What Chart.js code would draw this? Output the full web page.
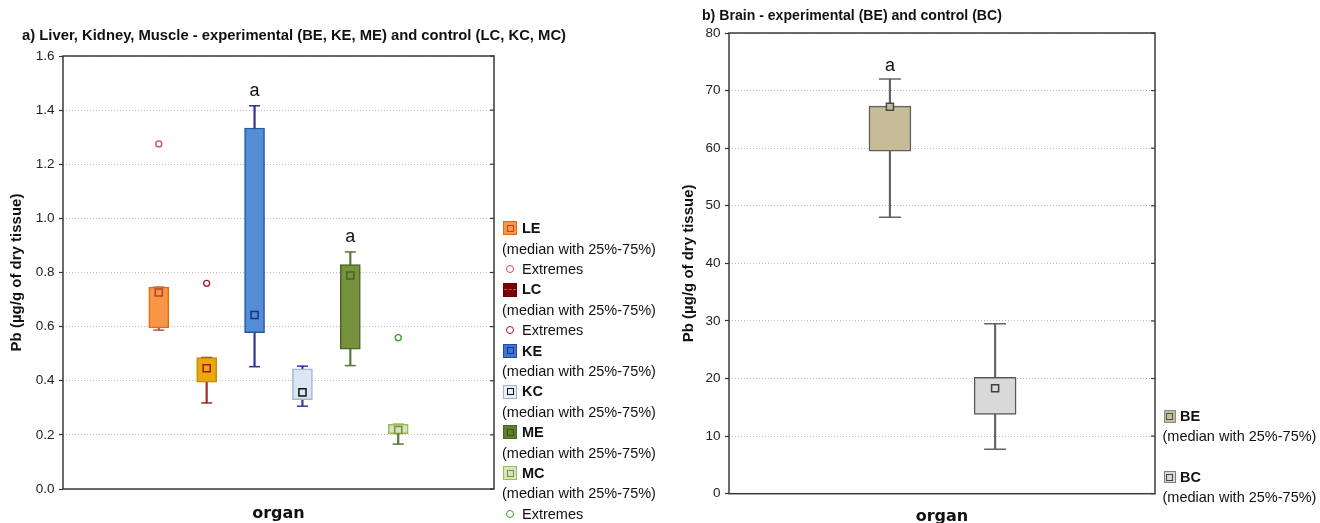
<!DOCTYPE html>
<html><head><meta charset="utf-8">
<script src="https://cdn.jsdelivr.net/npm/chart.js@4.4.1/dist/chart.umd.min.js"></script>
<style>
html,body{margin:0;padding:0;width:1320px;height:523px;overflow:hidden;background:#fff;font-family:"Liberation Sans",Arial,sans-serif;color:#111}
canvas{position:absolute;top:0}
#cA{left:0}
#cB{left:680px}
.ttl{position:absolute;font-weight:bold;line-height:1;white-space:nowrap;color:#111}
.lt{position:absolute;font-size:14.5px;line-height:20.4px;height:20.4px;white-space:nowrap;color:#111}
.lt b{font-weight:bold}
.sw{position:absolute;box-sizing:border-box;border:1px solid}
.sw i{position:absolute;box-sizing:border-box;border:1.5px solid}
.ci{position:absolute;box-sizing:border-box;width:8px;height:8px;border:1.4px solid;border-radius:50%;background:#fff}
</style></head>
<body>
<canvas id="cA" width="600" height="523"></canvas>
<canvas id="cB" width="640" height="526"></canvas>
<div class="ttl" style="left:22px;top:28.2px;font-size:14.8px">a) Liver, Kidney, Muscle - experimental (BE, KE, ME) and control (LC, KC, MC)</div>
<div class="ttl" style="left:702px;top:7.6px;font-size:14.1px">b) Brain - experimental (BE) and control (BC)</div>
<div id="legA"></div><div id="legB"></div>
<script>
// ---------- data: chart a ----------
const groupsA = ['LE','LC','KE','KC','ME','MC'];
const minA = [0.587, 0.318, 0.452, 0.306, 0.456, 0.166];
const q1A  = [0.595, 0.395, 0.578, 0.330, 0.517, 0.204];
const medA = [0.726, 0.446, 0.643, 0.357, 0.789, 0.218];
const q3A  = [0.746, 0.486, 1.334, 0.444, 0.829, 0.239];
const maxA = [0.746, 0.486, 1.416, 0.454, 0.876, 0.239];
const extGroupA = ['LE','LC','MC'];
const extValA = [1.275, 0.760, 0.559];
const sigA = ['', '', 'a', '', 'a', ''];
const yTicksA = [0, 0.2, 0.4, 0.6, 0.8, 1.0, 1.2, 1.4, 1.6];

// ---------- data: chart b ----------
const groupsB = ['BE','BC'];
const minB = [48.0, 7.7];
const q1B  = [59.5, 13.75];
const medB = [67.2, 18.3];
const q3B  = [67.3, 20.2];
const maxB = [72.0, 29.5];
const sigB = ['a', ''];
const yTicksB = [0, 10, 20, 30, 40, 50, 60, 70, 80];

// ---------- styles ----------
const styleA = {
  LE:{fill:'#f79646', border:'#e36c09', med:'#b4462a', whisk:'#c0504d'},
  LC:{fill:'#e8a80e', border:'#c38b06', med:'#a11a12', whisk:'#9b2a2a'},
  KE:{fill:'#548dd4', border:'#2458a8', med:'#1c2b8c', whisk:'#2e3192'},
  KC:{fill:'#dce6f2', border:'#a4b7cf', med:'#111111', whisk:'#2d3aa8'},
  ME:{fill:'#76923c', border:'#4f6228', med:'#4f6228', whisk:'#5d7531'},
  MC:{fill:'#d7e4bd', border:'#9bbb59', med:'#76923c', whisk:'#5d7531'}
};
const extColorA = {LE:'#c0504d', LC:'#a0181c', MC:'#3a9a2a'};
const styleB = {
  BE:{fill:'#c4bd97', border:'#5f5f5f', med:'#4a4a4a', whisk:'#646464'},
  BC:{fill:'#d9d9d9', border:'#595959', med:'#404040', whisk:'#646464'}
};

Chart.defaults.font.family = "'Liberation Sans', Arial, sans-serif";
Chart.defaults.color = '#1a1a1a';

function framePlugin(sig, at, sigOffset){
  return {
    id:'frame',
    afterDatasetsDraw(chart){
      const {ctx, chartArea:{left,right,top,bottom}} = chart;
      const ys = chart.scales.y, xs = chart.scales.x;
      ctx.save();
      ctx.strokeStyle = '#3a3a3a'; ctx.lineWidth = 1.5;
      ctx.strokeRect(left, top, right-left, bottom-top);
      ctx.lineWidth = 1.2;
      ys.ticks.forEach(t => {
        const py = ys.getPixelForValue(t.value);
        ctx.beginPath(); ctx.moveTo(right-4, py); ctx.lineTo(right, py); ctx.stroke();
      });
      ctx.fillStyle = '#111';
      ctx.font = "18px 'Liberation Sans', Arial, sans-serif";
      ctx.textAlign = 'center'; ctx.textBaseline = 'alphabetic';
      sig.forEach((s,i) => {
        if (!s) return;
        ctx.fillText(s, xs.getPixelForValue(i), ys.getPixelForValue(at[i]) - sigOffset);
      });
      ctx.restore();
    }
  };
}

function boxChart(canvas, o){
  const idx = o.groups.map((g,i)=>i);
  const st = o.groups.map(g => o.style[g]);
  const datasets = [
    {type:'bar', order:6, grouped:false, barThickness:1.5, borderWidth:0, borderSkipped:false,
      backgroundColor: st.map(s=>s.whisk),
      data: idx.map(i=>({x:i, y:[o.min[i], o.max[i]]}))},
    {type:'line', order:5, showLine:false, pointStyle:'line', pointRadius:o.capR, pointBorderWidth:1.5,
      pointBorderColor: st.map(s=>s.whisk).concat(st.map(s=>s.whisk)),
      data: idx.map(i=>({x:i, y:o.min[i]})).concat(idx.map(i=>({x:i, y:o.max[i]})))},
    {type:'bar', order:4, grouped:false, barThickness:o.boxW, borderWidth:1.5, borderSkipped:false,
      backgroundColor: st.map(s=>s.fill), borderColor: st.map(s=>s.border),
      data: idx.map(i=>({x:i, y:[o.q1[i], o.q3[i]]}))},
    {type:'line', order:3, showLine:false, pointStyle:'rect', pointRadius:5, pointBorderWidth:1.5,
      pointBackgroundColor: st.map(s=>s.fill), pointBorderColor: st.map(s=>s.med),
      data: idx.map(i=>({x:i, y:o.med[i]}))}
  ];
  if (o.extG) datasets.push({type:'line', order:2, showLine:false, pointStyle:'circle', pointRadius:3,
      pointBorderWidth:1.3, pointBackgroundColor:'#ffffff',
      pointBorderColor: o.extG.map(g=>o.extColor[g]),
      data: o.extG.map((g,k)=>({x:o.groups.indexOf(g), y:o.extV[k]}))});
  return new Chart(canvas, {
    type:'bar',
    data:{datasets},
    plugins:[framePlugin(o.sig, o.max, o.sigOff)],
    options:{
      responsive:false, animation:false, devicePixelRatio:1, events:[],
      layout:{padding:o.pad},
      plugins:{legend:{display:false}, tooltip:{enabled:false}, title:{display:false}},
      scales:{
        x:{type:'linear', min:o.xMin, max:o.xMax, offset:false,
          grid:{display:false}, border:{display:false}, ticks:{display:false},
          title:{display:true, text:'organ', color:'#111', padding:0,
            font:{family:"'DejaVu Sans', Verdana, sans-serif", weight:'bold', size:16}},
          afterFit: s => { s.height = o.xH; }},
        y:{type:'linear', min:o.yTicks[0], max:o.yTicks[o.yTicks.length-1],
          afterBuildTicks: s => { s.ticks = o.yTicks.map(v=>({value:v})); },
          ticks:{callback: v => o.fmt(v), font:{size:13.5}, color:'#222', padding:4.5},
          grid:{color:'#bdbdbd', lineWidth:1, drawTicks:true, tickLength:4, tickColor:'#333', tickWidth:1.2, borderDash:[1,2]},
          border:{display:false, dash:[1,2]},
          title:{display:true, text:'Pb (µg/g of dry tissue)', color:'#111',
            font:{weight:'bold', size:15}, padding:{top:o.yTitlePad, bottom:0}},
          afterFit: s => { s.width = o.yW; }}
      }
    }
  });
}

boxChart(document.getElementById('cA'), {
  groups:groupsA, min:minA, q1:q1A, med:medA, q3:q3A, max:maxA, style:styleA,
  extG:extGroupA, extV:extValA, extColor:extColorA, sig:sigA, sigOff:9.5,
  yTicks:yTicksA, fmt: v => v.toFixed(1),
  xMin:-2, xMax:7, boxW:20, capR:5.5,
  pad:{top:56, right:106, bottom:0, left:0}, xH:34, yW:63, yTitlePad:8
});
boxChart(document.getElementById('cB'), {
  groups:groupsB, min:minB, q1:q1B, med:medB, q3:q3B, max:maxB, style:styleB,
  sig:sigB, sigOff:8,
  yTicks:yTicksB, fmt: v => String(v),
  xMin:-1.53, xMax:2.52, boxW:42, capR:11,
  pad:{top:33, right:165, bottom:0, left:0}, xH:32.3, yW:49, yTitlePad:0
});

// ---------- legends (HTML text) ----------
const legendA = [
  {k:'box', name:'LE', fill:'#f79646', border:'#e36c09', inner:'#b4462a'},
  {k:'med'}, {k:'ext', color:extColorA.LE},
  {k:'box', name:'LC', fill:'#7f0000', border:'#6a0000', dash:'#3c9a3c'},
  {k:'med'}, {k:'ext', color:extColorA.LC},
  {k:'box', name:'KE', fill:'#3f78d0', border:'#1f4e9f', inner:'#1c2b8c'},
  {k:'med'},
  {k:'box', name:'KC', fill:'#e9eef6', border:'#a0b0c8', inner:'#111111'},
  {k:'med'},
  {k:'box', name:'ME', fill:'#5f7f2a', border:'#4f6228', inner:'#3f5020'},
  {k:'med'},
  {k:'box', name:'MC', fill:'#d7e4bd', border:'#9bbb59', inner:'#76923c'},
  {k:'med'}, {k:'ext', color:extColorA.MC}
];
const legendB = [
  {k:'box', name:'BE', fill:'#c4bd97', border:'#8a8a8a', inner:'#505050'},
  {k:'med'},
  {k:'box', name:'BC', fill:'#d9d9d9', border:'#7f7f7f', inner:'#404040'},
  {k:'med'}
];
function buildLegend(host, items, centers, x0, swSize, nameX){
  items.forEach((it,i) => {
    const cy = centers[i];
    if (it.k === 'box'){
      const sw = document.createElement('div');
      sw.className = 'sw';
      sw.style.cssText = `left:${x0+1}px;top:${cy-swSize/2}px;width:${swSize}px;height:${swSize}px;background:${it.fill};border-color:${it.border}`;
      const inn = document.createElement('i');
      if (it.dash){
        inn.style.cssText = `left:0;top:${swSize/2-1.5}px;width:100%;height:0;border:0;border-top:1.5px dashed ${it.dash}`;
      } else {
        const s = Math.round(swSize*0.52);
        inn.style.cssText = `left:${(swSize-s)/2-1}px;top:${(swSize-s)/2-1}px;width:${s}px;height:${s}px;border-color:${it.inner}`;
      }
      sw.appendChild(inn); host.appendChild(sw);
      const t = document.createElement('div');
      t.className = 'lt'; t.style.left = nameX+'px'; t.style.top = (cy-10.2)+'px';
      t.innerHTML = '<b>'+it.name+'</b>';
      host.appendChild(t);
    } else if (it.k === 'med'){
      const t = document.createElement('div');
      t.className = 'lt'; t.style.left = x0+'px'; t.style.top = (cy-10.2)+'px';
      t.textContent = '(median with 25%-75%)';
      host.appendChild(t);
    } else {
      const c = document.createElement('div');
      c.className = 'ci'; c.style.left = (x0+4)+'px'; c.style.top = (cy-4)+'px'; c.style.borderColor = it.color;
      host.appendChild(c);
      const t = document.createElement('div');
      t.className = 'lt'; t.style.left = nameX+'px'; t.style.top = (cy-10.2)+'px';
      t.textContent = 'Extremes';
      host.appendChild(t);
    }
  });
}
buildLegend(document.getElementById('legA'), legendA, legendA.map((_,i)=>228.3+i*20.4), 502, 14, 522);
buildLegend(document.getElementById('legB'), legendB, [416.5, 436.5, 477, 497], 1162.5, 12.5, 1180);
</script>
</body></html>
